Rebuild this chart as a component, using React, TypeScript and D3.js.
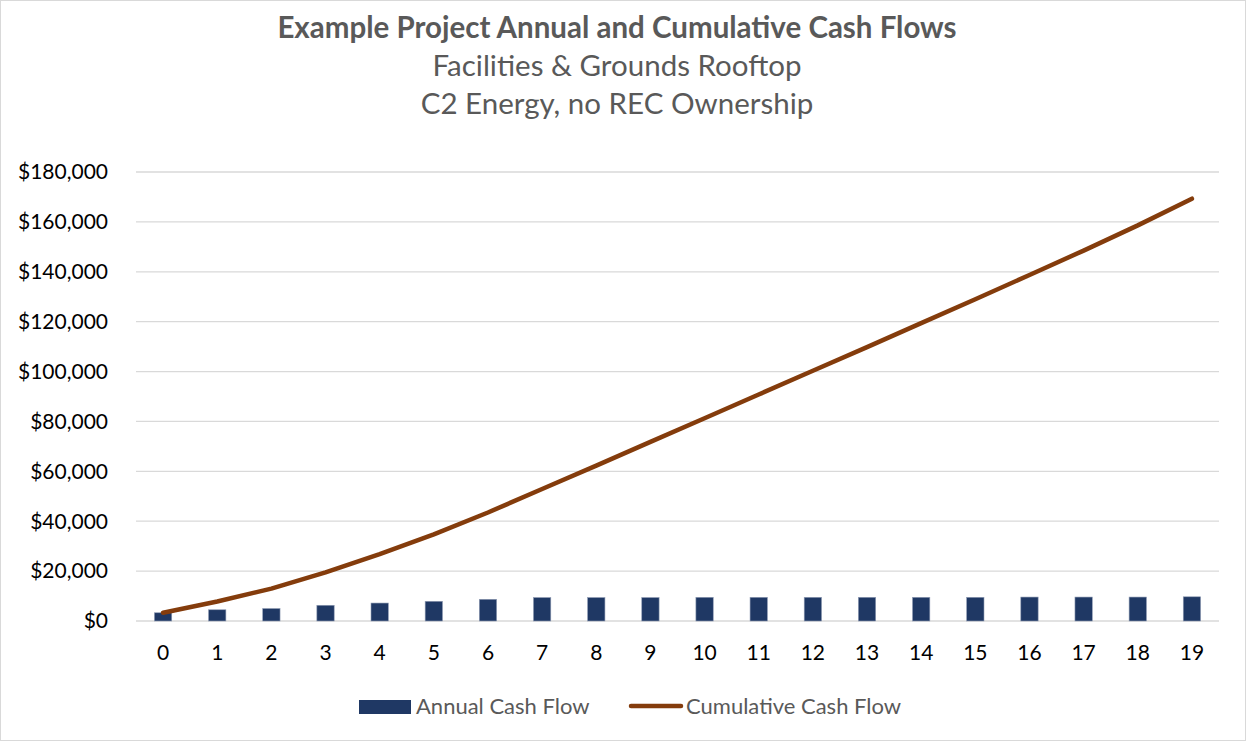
import React, { useEffect, useRef } from 'react'
import * as d3 from 'd3'

// years 0..19
const years: string[] = d3.range(20).map(String)

const annualCashFlow: number[] = [
  3300, 4500, 5000, 6300, 7200, 7900, 8700, 9400, 9400, 9400,
  9500, 9500, 9500, 9500, 9500, 9500, 9600, 9600, 9600, 9700,
]

const cumulativeCashFlow: number[] = [
  3300, 7800, 13000, 19500, 26800, 34700, 43500, 52900, 62300, 71800,
  81300, 90800, 100300, 109800, 119400, 129000, 138700, 148500, 158600, 169300,
]

const yTicks: number[] = [0, 20000, 40000, 60000, 80000, 100000, 120000, 140000, 160000, 180000]

const titleLines: string[] = [
  'Example Project Annual and Cumulative Cash Flows',
  'Facilities & Grounds Rooftop',
  'C2 Energy, no REC Ownership',
]

const W = 1247
const H = 742
const FONT = 'Lato, "Open Sans", sans-serif'

const App = () => {
  const ref = useRef<SVGSVGElement>(null)

  useEffect(() => {
    const svg = d3.select(ref.current)
    svg.selectAll('*').remove()

    const margin = { top: 172, right: 28, bottom: 121, left: 136 }
    const width = W - margin.left - margin.right
    const height = H - margin.top - margin.bottom

    // outer chart border
    svg.append('rect')
      .attr('x', 0.5).attr('y', 0.5)
      .attr('width', W - 2).attr('height', H - 2)
      .attr('fill', '#fff')
      .attr('stroke', '#d9d9d9')

    // titles
    svg.selectAll('text.title')
      .data(titleLines)
      .enter().append('text')
      .attr('class', 'title')
      .attr('x', 617)
      .attr('y', (d, i) => 38 + i * 38)
      .attr('text-anchor', 'middle')
      .attr('font-family', FONT)
      .attr('font-size', (d, i) => (i === 0 ? 29.5 : 29.5))
      .attr('font-weight', (d, i) => (i === 0 ? 700 : 400))
      .attr('fill', '#595959')
      .text(d => d)

    const g = svg.append('g')
      .attr('transform', `translate(${margin.left},${margin.top})`)

    const x = d3.scaleBand()
      .domain(years)
      .range([0, width])
      .paddingInner(0.68)
      .paddingOuter(0.34)

    const xPoint = (d: string) => (x(d) as number) + x.bandwidth() / 2

    const y = d3.scaleLinear()
      .domain([0, 180000])
      .range([height, 0])

    // gridlines
    g.selectAll('line.grid')
      .data(yTicks)
      .enter().append('line')
      .attr('class', 'grid')
      .attr('x1', 0)
      .attr('x2', width)
      .attr('y1', d => y(d))
      .attr('y2', d => y(d))
      .attr('stroke', '#d9d9d9')
      .attr('stroke-width', 1.3)

    // y axis labels
    const fmt = d3.format('$,.0f')
    g.selectAll('text.ytick')
      .data(yTicks)
      .enter().append('text')
      .attr('class', 'ytick')
      .attr('x', -28)
      .attr('y', d => y(d))
      .attr('dy', '0.35em')
      .attr('text-anchor', 'end')
      .attr('font-family', FONT)
      .attr('font-size', 21)
      .attr('fill', '#000')
      .text(d => fmt(d))

    // x axis labels
    g.selectAll('text.xtick')
      .data(years)
      .enter().append('text')
      .attr('class', 'xtick')
      .attr('x', d => xPoint(d))
      .attr('y', height + 39)
      .attr('text-anchor', 'middle')
      .attr('font-family', FONT)
      .attr('font-size', 21)
      .attr('fill', '#000')
      .text(d => d)

    // bars
    g.selectAll('rect.bar')
      .data(annualCashFlow)
      .enter().append('rect')
      .attr('class', 'bar')
      .attr('x', (d, i) => x(years[i]) as number)
      .attr('y', d => y(d))
      .attr('width', x.bandwidth())
      .attr('height', d => y(0) - y(d))
      .attr('fill', '#1f3864')
      .attr('stroke', '#8f9bb3')
      .attr('stroke-width', 0.6)

    // cumulative line
    const line = d3.line<number>()
      .x((d, i) => xPoint(years[i]))
      .y(d => y(d))

    g.append('path')
      .datum(cumulativeCashFlow)
      .attr('d', line)
      .attr('fill', 'none')
      .attr('stroke', '#843c0c')
      .attr('stroke-width', 4.5)
      .attr('stroke-linecap', 'round')
      .attr('stroke-linejoin', 'round')

    // legend
    const legend = svg.append('g').attr('font-family', FONT).attr('font-size', 22).attr('fill', '#595959')
    legend.append('rect')
      .attr('x', 359).attr('y', 700)
      .attr('width', 52).attr('height', 14)
      .attr('fill', '#1f3864')
    legend.append('text')
      .attr('x', 416).attr('y', 714)
      .text('Annual Cash Flow')
    legend.append('line')
      .attr('x1', 631).attr('x2', 681)
      .attr('y1', 706).attr('y2', 706)
      .attr('stroke', '#843c0c')
      .attr('stroke-width', 4.5)
      .attr('stroke-linecap', 'round')
    legend.append('text')
      .attr('x', 686).attr('y', 714)
      .text('Cumulative Cash Flow')
  }, [])

  return (
    <svg
      ref={ref}
      width={W}
      height={H}
      style={{ position: 'absolute', left: 0, top: 0, display: 'block' }}
    />
  )
}

export default App
